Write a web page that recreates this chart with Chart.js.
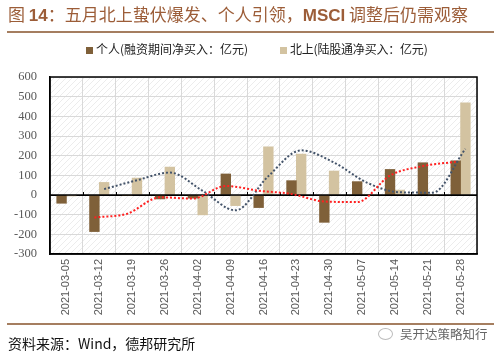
<!DOCTYPE html>
<html><head><meta charset="utf-8">
<script src="https://cdn.jsdelivr.net/npm/chart.js@4/dist/chart.umd.min.js"></script>
<style>
html,body{margin:0;padding:0;background:#fff;}
#wrap{position:relative;width:501px;height:355px;overflow:hidden;background:#fff;}
canvas{position:absolute;left:0;top:0;}
.title{position:absolute;left:8px;top:4px;font-family:"Noto Sans CJK SC";font-size:17px;color:#9c5d38;white-space:nowrap;line-height:20px;}
.title b{font-family:"Liberation Sans",Arial;font-weight:bold;}
.rule{position:absolute;left:7px;width:487px;height:2px;background:#a57e60;}
.legend{position:absolute;top:41px;font-family:"Noto Sans CJK SC";font-size:12px;color:#222;white-space:nowrap;line-height:16px;}
.legend i{display:inline-block;width:7px;height:7px;margin-right:3px;vertical-align:0px;}
.foot{position:absolute;left:8px;top:333px;font-family:"Noto Sans CJK SC";font-size:14px;color:#111;white-space:nowrap;line-height:20px;}
.wm{position:absolute;left:400px;top:325px;font-family:"Noto Sans CJK SC";font-size:12.5px;color:#666;white-space:nowrap;line-height:18px;}
.wmi{position:absolute;left:378px;top:328px;width:13px;height:10px;border:1px solid #bbb;border-radius:50%;}
</style></head>
<body>
<div id="wrap">
<canvas id="c" width="501" height="355"></canvas>
<canvas id="c2" width="501" height="355"></canvas>
<div class="title">图 <b>14</b>：五月北上蛰伏爆发、个人引领，<b>MSCI</b> 调整后仍需观察</div>
<div class="rule" style="top:31px"></div>
<div class="legend" style="left:86px"><i style="background:#7f6039"></i><span id="lg0"></span></div>
<div class="legend" style="left:280px;letter-spacing:-0.2px"><i style="background:#d3c3a1"></i><span id="lg1"></span></div>
<div class="rule" style="top:323px"></div>
<div class="foot">资料来源：Wind，德邦研究所</div>
<div class="wmi"></div>
<div class="wm">吴开达策略知行</div>
</div>
<script>
const categories = ['2021-03-05','2021-03-12','2021-03-19','2021-03-26','2021-04-02','2021-04-09','2021-04-16','2021-04-23','2021-04-30','2021-05-07','2021-05-14','2021-05-21','2021-05-28'];
const individual = [-42, -186, -3, -20, -16, 107, -64, 73, -139, 68, 130, 164, 174];
const north = [-5, 64, 86, 142, -101, -54, 245, 208, 122, 3, 25, 0, 469];
const individualTrend = [null, -114, -95, -12, -18, 46, 22, 5, -33, -36, 99, 147, 169];
const northTrend = [null, 30, 75, 114, 21, -78, 96, 227, 165, 63, 14, 12, 235];
const yTicks = [-300, -200, -100, 0, 100, 200, 300, 400, 500, 600];
const legendNames = ['个人(融资期间净买入：亿元)', '北上(陆股通净买入：亿元)'];
document.getElementById('lg0').textContent = legendNames[0];
document.getElementById('lg1').textContent = legendNames[1];

const BAR_SHIFT = 0.148;
const toPts = (arr, shift) => arr.map((v, i) => v === null ? null : {x: i + shift, y: v}).filter(p => p);
const PAD = {left: 0, top: 77, right: 24, bottom: 0};

const hatch = {
  id: 'hatch',
  beforeDraw(chart) {
    const {ctx, chartArea: a} = chart;
    const pc = document.createElement('canvas');
    pc.width = 6; pc.height = 6;
    const p = pc.getContext('2d');
    p.strokeStyle = '#ececec'; p.lineWidth = 1;
    p.beginPath(); p.moveTo(0, 6); p.lineTo(6, 0); p.moveTo(-1, 1); p.lineTo(1, -1); p.moveTo(5, 7); p.lineTo(7, 5); p.stroke();
    ctx.save();
    ctx.fillStyle = ctx.createPattern(pc, 'repeat');
    ctx.fillRect(a.left, a.top, a.right - a.left, a.bottom - a.top);
    ctx.restore();
  },
  afterDraw(chart) {
    const {ctx, chartArea: a, scales} = chart;
    ctx.save();
    ctx.strokeStyle = '#000'; ctx.lineWidth = 1.5;
    ctx.strokeRect(a.left, a.top, a.right - a.left, a.bottom - a.top);
    const y0 = scales.y.getPixelForValue(0);
    ctx.beginPath(); ctx.moveTo(a.left, y0); ctx.lineTo(a.right, y0); ctx.stroke();
    ctx.lineWidth = 1;
    for (let i = 1; i < categories.length; i++) {
      const x = Math.round(scales.xl.getPixelForValue(i - 0.5)) + 0.5;
      ctx.beginPath(); ctx.moveTo(x, y0); ctx.lineTo(x, y0 - 3); ctx.stroke();
    }
    ctx.restore();
  }
};

new Chart(document.getElementById('c'), {
  type: 'bar',
  data: {
    labels: categories,
    datasets: [
      {label: legendNames[0], data: individual, backgroundColor: '#7f6039', barThickness: 9.7},
      {label: legendNames[1], data: north, backgroundColor: '#d3c3a1', barThickness: 9.7}
    ]
  },
  options: {
    responsive: false,
    animation: false,
    layout: {padding: PAD},
    plugins: {legend: {display: false}, tooltip: {enabled: false}, title: {display: false}},
    scales: {
      x: {
        type: 'category', offset: true,
        grid: {offset: true, color: '#d9d9d9', drawTicks: false},
        border: {color: '#000', width: 1.5},
        ticks: {minRotation: 90, maxRotation: 90, autoSkip: false, padding: 5, color: '#595959',
                font: {family: '"Liberation Sans", Arial', size: 11}},
        afterFit(s) { s.height = 101; }
      },
      xl: {type: 'linear', min: -0.5, max: 12.5, display: false, offset: false, grid: {offset: false}},
      y: {
        min: -300, max: 600,
        afterBuildTicks(s) { s.ticks = yTicks.map(v => ({value: v})); },
        grid: {color: c => c.tick && c.tick.value === 0 ? '#000' : '#d9d9d9', drawTicks: false},
        border: {color: '#000', width: 1.5},
        ticks: {padding: 13, color: '#595959', font: {family: '"Liberation Serif", "Times New Roman"', size: 12.5}},
        afterFit(s) { s.width = 50; }
      }
    }
  },
  plugins: [hatch]
});

new Chart(document.getElementById('c2'), {
  type: 'line',
  data: {
    datasets: [
      {label: 'trend1', data: toPts(individualTrend, -BAR_SHIFT), borderColor: '#ff2020',
       borderWidth: 2, borderDash: [2, 2], pointRadius: 0, cubicInterpolationMode: 'monotone', fill: false},
      {label: 'trend2', data: toPts(northTrend, BAR_SHIFT), borderColor: '#44546a',
       borderWidth: 2, borderDash: [2, 2], pointRadius: 0, cubicInterpolationMode: 'monotone', fill: false}
    ]
  },
  options: {
    responsive: false,
    animation: false,
    layout: {padding: PAD},
    plugins: {legend: {display: false}, tooltip: {enabled: false}, title: {display: false}},
    scales: {
      x: {type: 'linear', min: -0.5, max: 12.5, offset: false,
          grid: {display: false, drawTicks: false}, border: {display: false}, ticks: {display: false},
          afterFit(s) { s.height = 101; }},
      y: {min: -300, max: 600,
          grid: {display: false, drawTicks: false}, border: {display: false}, ticks: {display: false},
          afterFit(s) { s.width = 50; }}
    }
  }
});
</script>
</body></html>
